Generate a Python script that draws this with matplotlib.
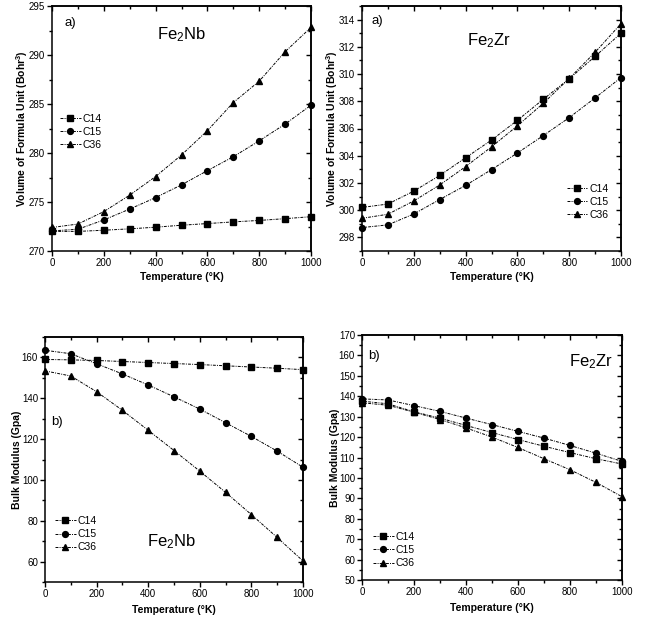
import matplotlib
matplotlib.use('Agg')
import matplotlib.pyplot as plt
from matplotlib import font_manager
from matplotlib.ticker import MultipleLocator

# ---------------- data ----------------
T = [0, 100, 200, 300, 400, 500, 600, 700, 800, 900, 1000]

nb_vol_c14 = [272.0, 272.0, 272.12, 272.26, 272.43, 272.63, 272.8, 272.97, 273.12, 273.3, 273.5]
nb_vol_c15 = [272.05, 272.22, 273.17, 274.28, 275.45, 276.75, 278.2, 279.62, 281.24, 282.95, 284.88]
nb_vol_c36 = [272.4, 272.75, 274.02, 275.7, 277.6, 279.8, 282.28, 285.15, 287.33, 290.33, 292.82]

zr_vol_c14 = [300.2, 300.45, 301.4, 302.55, 303.85, 305.15, 306.6, 308.15, 309.65, 311.3, 313.0]
zr_vol_c15 = [298.72, 298.92, 299.72, 300.78, 301.82, 302.98, 304.2, 305.48, 306.8, 308.25, 309.74]
zr_vol_c36 = [299.4, 299.7, 300.68, 301.85, 303.2, 304.65, 306.2, 307.85, 309.68, 311.6, 313.7]

nb_bm_c14 = [159.0, 158.8, 158.5, 158.0, 157.5, 157.0, 156.5, 155.9, 155.3, 154.7, 154.0]
nb_bm_c15 = [163.5, 161.8, 156.9, 151.9, 146.5, 140.7, 134.7, 128.0, 121.3, 114.1, 106.2]
nb_bm_c36 = [153.4, 150.9, 143.2, 134.1, 124.3, 114.4, 104.3, 93.9, 83.0, 71.8, 60.3]

zr_bm_c14 = [137.6, 136.3, 132.4, 129.3, 125.7, 122.2, 118.8, 115.5, 112.4, 109.4, 106.8]
zr_bm_c15 = [138.7, 138.2, 135.4, 132.6, 129.3, 126.1, 122.8, 119.5, 115.9, 112.1, 108.1]
zr_bm_c36 = [136.8, 135.6, 132.2, 128.6, 124.5, 120.0, 114.9, 109.4, 104.0, 97.8, 90.8]

series_labels = ['C14', 'C15', 'C36']
markers = ['s', 'o', '^']

# ---------------- fonts ----------------
names = {f.name for f in font_manager.fontManager.ttflist}
FONT = 'DejaVu Sans'
for cand in ['Liberation Sans Narrow', 'DejaVu Sans Condensed', 'Liberation Sans']:
    if cand in names:
        FONT = cand
        break
plt.rcParams['font.family'] = [FONT, 'DejaVu Sans']
plt.rcParams['mathtext.default'] = 'regular'

W, H = 649, 622
fig = plt.figure(figsize=(W / 100, H / 100), dpi=100)


def make_axes(l, t, r, b):
    return fig.add_axes([l / W, 1 - b / H, (r - l) / W, (b - t) / H])


LS = (0, (3, 1.2, 1, 1.2))


def style(ax, ylim, ymaj, ymin):
    ax.set_xlim(0, 1000)
    ax.set_ylim(*ylim)
    ax.xaxis.set_major_locator(MultipleLocator(200))
    ax.xaxis.set_minor_locator(MultipleLocator(100))
    ax.yaxis.set_major_locator(MultipleLocator(ymaj))
    ax.yaxis.set_minor_locator(MultipleLocator(ymin))
    ax.tick_params(which='both', direction='out', labelsize=7, pad=1.5, width=1.0)
    ax.tick_params(which='major', length=3.5)
    ax.tick_params(which='minor', length=2)
    for s in ax.spines.values():
        s.set_linewidth(1.1)
    # mirrored inward ticks on top and right
    top = ax.secondary_xaxis('top')
    top.xaxis.set_major_locator(MultipleLocator(200))
    top.xaxis.set_minor_locator(MultipleLocator(100))
    top.tick_params(which='both', direction='in', labeltop=False, width=1.0)
    top.tick_params(which='major', length=3.5)
    top.tick_params(which='minor', length=2)
    right = ax.secondary_yaxis('right')
    right.yaxis.set_major_locator(MultipleLocator(ymaj))
    right.yaxis.set_minor_locator(MultipleLocator(ymin))
    right.tick_params(which='both', direction='in', labelright=False, width=1.0)
    right.tick_params(which='major', length=3.5)
    right.tick_params(which='minor', length=2)
    for s in list(top.spines.values()) + list(right.spines.values()):
        s.set_linewidth(1.1)


def plot_series(ax, ys):
    for y, lab, m in zip(ys, series_labels, markers):
        ax.plot(T, y, color='black', linestyle=LS, linewidth=0.7, marker=m,
                markersize=4.2, markerfacecolor='black', markeredgecolor='black',
                label=lab, clip_on=False, zorder=3)


def legend(ax, x, y):
    ax.legend(loc='center left', bbox_to_anchor=(x, y), frameon=False,
              fontsize=7.5, borderpad=0, borderaxespad=0, handlelength=2.0,
              handletextpad=0.15, labelspacing=0.3)


def labels(ax, ylabel, xlab_y, ylab_x):
    ax.set_xlabel('Temperature (°K)', fontsize=7.5, fontweight='bold')
    ax.set_ylabel(ylabel, fontsize=7.5, fontweight='bold')
    ax.xaxis.set_label_coords(0.5, xlab_y)
    ax.yaxis.set_label_coords(ylab_x, 0.5)


# top-left: Fe2Nb volume
ax1 = make_axes(52, 6, 311, 251)
style(ax1, (270, 295), 5, 2.5)
plot_series(ax1, [nb_vol_c14, nb_vol_c15, nb_vol_c36])
legend(ax1, 0.031, 0.486)
labels(ax1, 'Volume of Formula Unit (Bohr$^3$)', -0.085, -0.085)
ax1.text(0.07, 0.93, 'a)', transform=ax1.transAxes, fontsize=9.5, ha='center', va='center')
ax1.text(0.5, 0.885, 'Fe$_2$Nb', transform=ax1.transAxes, fontsize=12, ha='center', va='center')

# top-right: Fe2Zr volume
ax2 = make_axes(362, 6, 621, 251)
style(ax2, (297, 315), 2, 1)
plot_series(ax2, [zr_vol_c14, zr_vol_c15, zr_vol_c36])
legend(ax2, 0.79, 0.2)
labels(ax2, 'Volume of Formula Unit (Bohr$^3$)', -0.085, -0.085)
ax2.text(0.06, 0.94, 'a)', transform=ax2.transAxes, fontsize=9.5, ha='center', va='center')
ax2.text(0.49, 0.86, 'Fe$_2$Zr', transform=ax2.transAxes, fontsize=12, ha='center', va='center')

# bottom-left: Fe2Nb bulk modulus
ax3 = make_axes(45, 337, 303, 582)
style(ax3, (50, 170), 20, 10)
plot_series(ax3, [nb_bm_c14, nb_bm_c15, nb_bm_c36])
legend(ax3, 0.039, 0.195)
labels(ax3, 'Bulk Modulus (Gpa)', -0.095, -0.089)
ax3.text(0.047, 0.655, 'b)', transform=ax3.transAxes, fontsize=9.5, ha='center', va='center')
ax3.text(0.49, 0.165, 'Fe$_2$Nb', transform=ax3.transAxes, fontsize=12, ha='center', va='center')

# bottom-right: Fe2Zr bulk modulus
ax4 = make_axes(362, 335, 622, 580)
style(ax4, (50, 170), 10, 5)
plot_series(ax4, [zr_bm_c14, zr_bm_c15, zr_bm_c36])
legend(ax4, 0.042, 0.122)
labels(ax4, 'Bulk Modulus (Gpa)', -0.095, -0.085)
ax4.text(0.046, 0.915, 'b)', transform=ax4.transAxes, fontsize=9.5, ha='center', va='center')
ax4.text(0.88, 0.89, 'Fe$_2$Zr', transform=ax4.transAxes, fontsize=12, ha='center', va='center')

fig.savefig('out.png', dpi=100)
